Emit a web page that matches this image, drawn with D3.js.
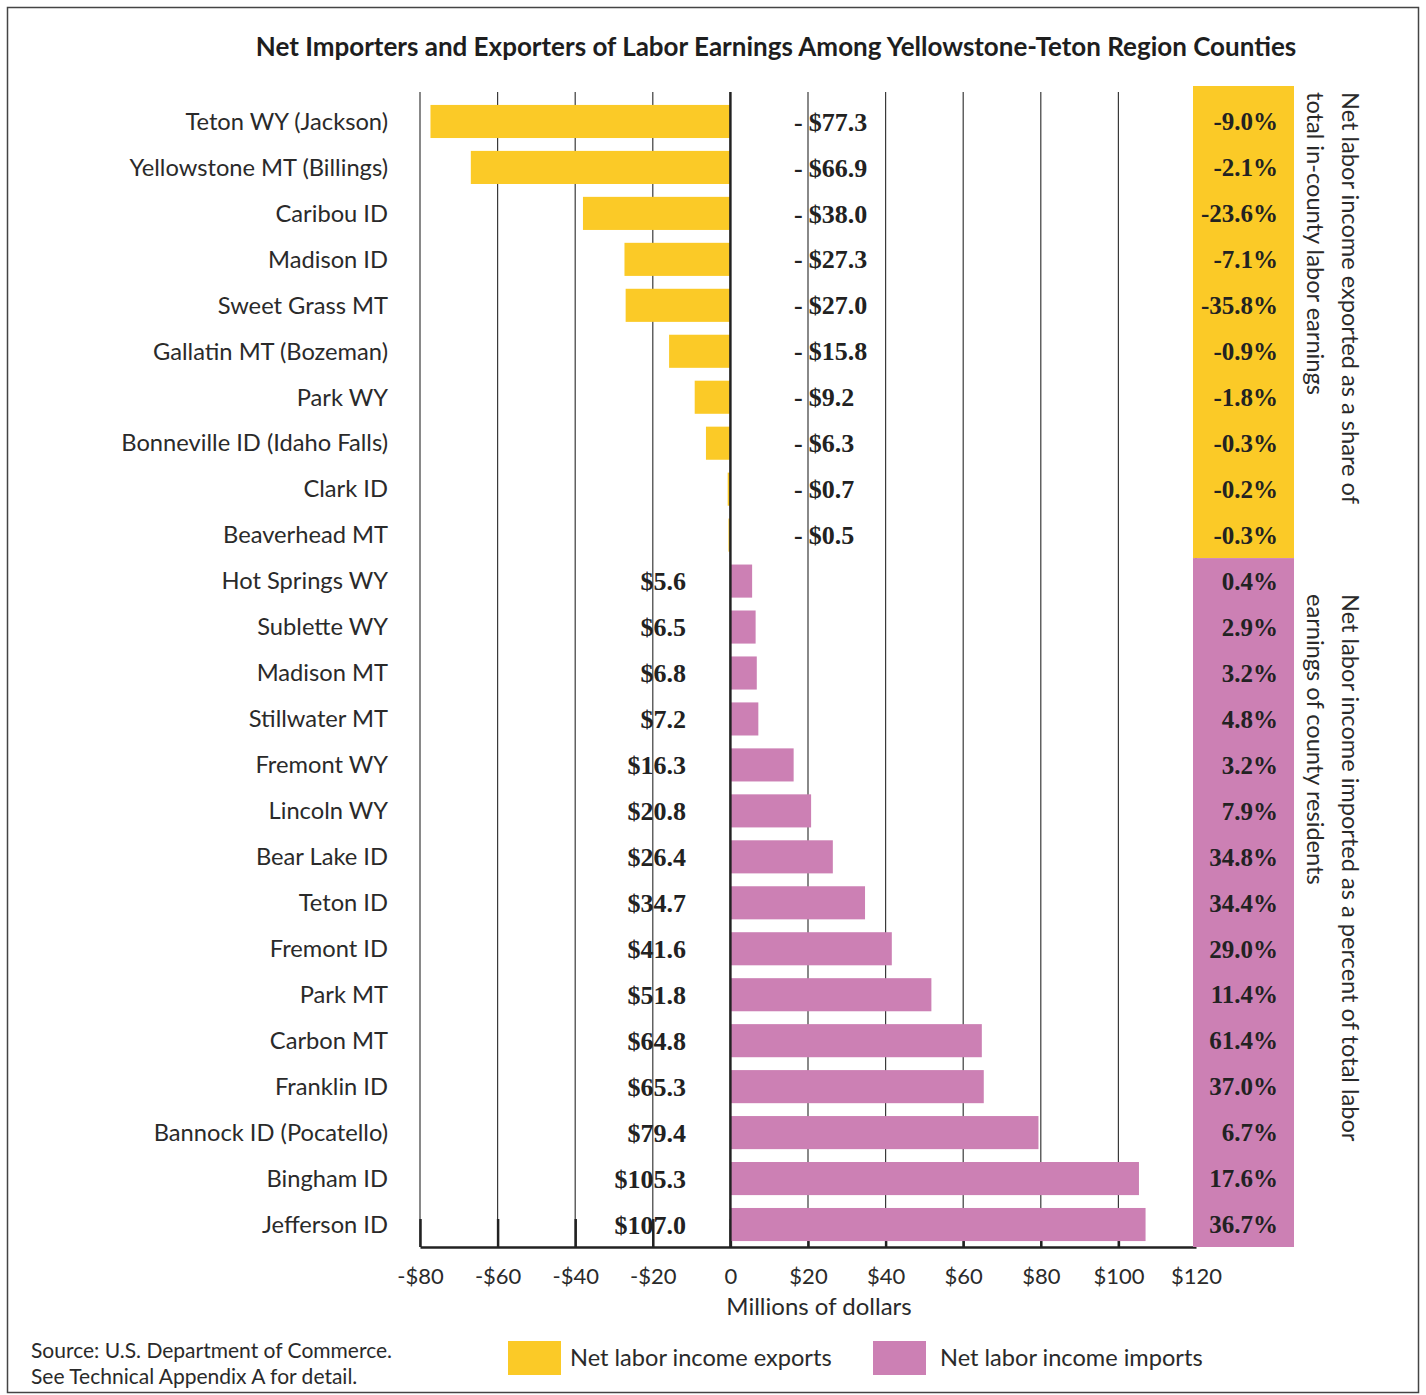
<!DOCTYPE html>
<html>
<head>
<meta charset="utf-8">
<script src="https://cdn.jsdelivr.net/npm/d3@7"></script>
<style>
  body { margin: 0; background: #fff; }
  text { font-family: Lato, "Open Sans", sans-serif; fill: #2a2a2a; }
  .num { font-family: "Liberation Serif", "DejaVu Serif", serif; font-weight: bold; fill: #222; }
</style>
</head>
<body>
<script>
var width = 1426,
    height = 1395;

// counties, top to bottom
var counties = ["Teton WY (Jackson)", "Yellowstone MT (Billings)", "Caribou ID", "Madison ID",
  "Sweet Grass MT", "Gallatin MT (Bozeman)", "Park WY", "Bonneville ID (Idaho Falls)", "Clark ID",
  "Beaverhead MT", "Hot Springs WY", "Sublette WY", "Madison MT", "Stillwater MT", "Fremont WY",
  "Lincoln WY", "Bear Lake ID", "Teton ID", "Fremont ID", "Park MT", "Carbon MT", "Franklin ID",
  "Bannock ID (Pocatello)", "Bingham ID", "Jefferson ID"];
// net labor income, millions of dollars (exports negative)
var netIncome = [-77.3, -66.9, -38.0, -27.3, -27.0, -15.8, -9.2, -6.3, -0.7, -0.5,
  5.6, 6.5, 6.8, 7.2, 16.3, 20.8, 26.4, 34.7, 41.6, 51.8, 64.8, 65.3, 79.4, 105.3, 107.0];
// share of earnings, percent
var shares = [-9.0, -2.1, -23.6, -7.1, -35.8, -0.9, -1.8, -0.3, -0.2, -0.3,
  0.4, 2.9, 3.2, 4.8, 3.2, 7.9, 34.8, 34.4, 29.0, 11.4, 61.4, 37.0, 6.7, 17.6, 36.7];
var xTicks = [-80, -60, -40, -20, 0, 20, 40, 60, 80, 100, 120];
var legendLabels = ["Net labor income exports", "Net labor income imports"];

var yellow = "#fbca27", pink = "#cc80b4";

var data = counties.map(function(c, i) { return {name: c, value: netIncome[i], share: shares[i]}; });

var svg = d3.select("body").append("svg")
    .attr("width", width)
    .attr("height", height);

svg.append("rect")
    .attr("x", 7.5).attr("y", 7.5)
    .attr("width", 1411).attr("height", 1385)
    .attr("fill", "none")
    .attr("stroke", "#444")
    .attr("stroke-width", 1.5);

svg.append("text")
    .attr("x", 776).attr("y", 56)
    .attr("text-anchor", "middle")
    .style("font-weight", "bold")
    .style("font-size", "26px")
    .style("fill", "#1e1e1e")
    .text("Net Importers and Exporters of Labor Earnings Among Yellowstone-Teton Region Counties");

var x = d3.scaleLinear().domain([-80, 120]).range([420, 1196]);
var y = d3.scaleBand().domain(counties).range([98.5, 1247.5]).paddingInner(0.28).paddingOuter(0.14);

// gridlines
svg.append("g").selectAll("line")
    .data(xTicks.filter(function(d) { return d !== 0; }))
  .enter().append("line")
    .attr("x1", x).attr("x2", x)
    .attr("y1", 92).attr("y2", 1247)
    .attr("stroke", "#3a3a3a")
    .attr("stroke-width", 1.2);

// axis
var axis = svg.append("g")
    .attr("transform", "translate(0,1247)")
    .call(d3.axisBottom(x).tickValues(xTicks).tickSize(-28).tickSizeOuter(0).tickPadding(21)
      .tickFormat(function(d) { return d < 0 ? "-$" + (-d) : d === 0 ? "0" : "$" + d; }));
axis.select(".domain").attr("stroke", "#222").attr("stroke-width", 2.5);
axis.selectAll(".tick line").attr("stroke", "#222").attr("stroke-width", 2.5);
axis.selectAll(".tick text")
    .style("font-family", "Lato, sans-serif")
    .style("font-size", "22px")
    .style("fill", "#2a2a2a");

svg.append("text")
    .attr("x", 819).attr("y", 1315)
    .attr("text-anchor", "middle")
    .style("font-size", "24px")
    .text("Millions of dollars");

// bars
svg.append("g").selectAll("rect")
    .data(data)
  .enter().append("rect")
    .attr("x", function(d) { return x(Math.min(0, d.value)); })
    .attr("y", function(d) { return y(d.name); })
    .attr("width", function(d) { return Math.abs(x(d.value) - x(0)); })
    .attr("height", y.bandwidth())
    .attr("fill", function(d) { return d.value < 0 ? yellow : pink; });

// zero line
svg.append("line")
    .attr("x1", x(0)).attr("x2", x(0))
    .attr("y1", 92).attr("y2", 1247)
    .attr("stroke", "#222")
    .attr("stroke-width", 2.5);

// county labels
svg.append("g").selectAll("text")
    .data(data)
  .enter().append("text")
    .attr("x", 388)
    .attr("y", function(d) { return y(d.name) + y.bandwidth() / 2; })
    .attr("dy", "0.35em")
    .attr("text-anchor", "end")
    .style("font-size", "23.7px")
    .text(function(d) { return d.name; });

// value labels
var vals = svg.append("g").selectAll("text")
    .data(data)
  .enter().append("text")
    .attr("class", "num")
    .attr("x", function(d) { return d.value < 0 ? 794 : 686; })
    .attr("y", function(d) { return y(d.name) + y.bandwidth() / 2; })
    .attr("dy", "0.35em")
    .attr("text-anchor", function(d) { return d.value < 0 ? "start" : "end"; })
    .style("font-size", "26px");
vals.each(function(d) {
  var t = d3.select(this);
  if (d.value < 0) {
    t.append("tspan").text("-");
    t.append("tspan").attr("dx", 6).text("$" + (-d.value).toFixed(1));
  } else {
    t.text("$" + d.value.toFixed(1));
  }
});

// share panel
var nExp = netIncome.filter(function(v) { return v < 0; }).length;
var splitY = y(counties[nExp]) - y.step() * y.paddingInner() / 2;
svg.append("rect").attr("x", 1193).attr("y", 86).attr("width", 101).attr("height", splitY - 86).attr("fill", yellow);
svg.append("rect").attr("x", 1193).attr("y", splitY).attr("width", 101).attr("height", 1247 - splitY).attr("fill", pink);

svg.append("g").selectAll("text")
    .data(data)
  .enter().append("text")
    .attr("class", "num")
    .attr("x", 1278)
    .attr("y", function(d) { return y(d.name) + y.bandwidth() / 2; })
    .attr("dy", "0.35em")
    .attr("text-anchor", "end")
    .style("font-size", "25px")
    .text(function(d) { return d.share.toFixed(1) + "%"; });

// rotated panel titles
var notes = [
  {y: 92, lines: ["Net labor income exported as a share of", "total in-county labor earnings"]},
  {y: 594, lines: ["Net labor income imported as a percent of total labor", "earnings of county residents"]}
];
notes.forEach(function(n) {
  n.lines.forEach(function(l, i) {
    svg.append("text")
      .attr("transform", "translate(" + (i === 0 ? 1342 : 1307) + "," + n.y + ") rotate(90)")
      .style("font-size", "23.6px")
      .text(l);
  });
});

// legend
var legend = svg.append("g").selectAll("g")
    .data(legendLabels)
  .enter().append("g")
    .attr("transform", function(d, i) { return "translate(" + [508, 873][i] + ",1341)"; });
legend.append("rect")
    .attr("width", 53).attr("height", 34)
    .attr("fill", function(d, i) { return i === 0 ? yellow : pink; });
legend.append("text")
    .attr("x", function(d, i) { return i === 0 ? 62 : 67; })
    .attr("y", 17).attr("dy", "0.35em")
    .style("font-size", "23.6px")
    .text(function(d) { return d; });

// source
svg.append("text")
    .attr("x", 31).attr("y", 1351).attr("dy", "0.35em")
    .style("font-size", "21px")
    .text("Source: U.S. Department of Commerce.");
svg.append("text")
    .attr("x", 31).attr("y", 1377).attr("dy", "0.35em")
    .style("font-size", "21px")
    .text("See Technical Appendix A for detail.");
</script>
</body>
</html>
